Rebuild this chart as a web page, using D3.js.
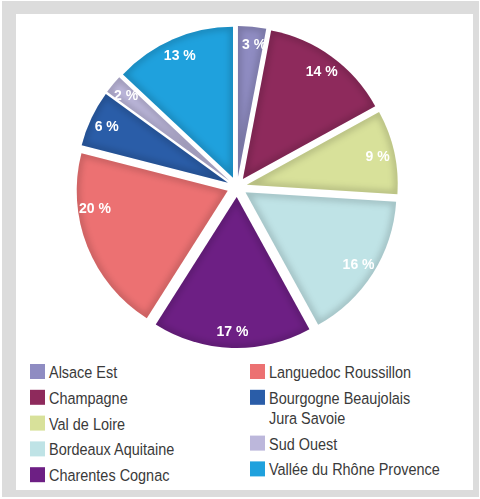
<!DOCTYPE html>
<html>
<head>
<meta charset="utf-8">
<script src="https://cdn.jsdelivr.net/npm/d3@7"></script>
<style>
  html, body { margin: 0; padding: 0; background: #fff; }
  svg { display: block; }
</style>
</head>
<body>
<script>
// Wine regions and their share (%)
const categories = [
  "Alsace Est",
  "Champagne",
  "Val de Loire",
  "Bordeaux Aquitaine",
  "Charentes Cognac",
  "Languedoc Roussillon",
  "Bourgogne Beaujolais\nJura Savoie",
  "Sud Ouest",
  "Vallée du Rhône Provence"
];
const values = [3, 14, 9, 16, 17, 20, 6, 2, 13];
const colors = [
  "#8f8cc2", "#8e2a5c", "#d8e19a", "#bfe3e6", "#6d1f84",
  "#ec7172", "#2a5da8", "#bcb7db", "#1fa1dd"
];
// legend column assignment
const leftColumn = [0, 1, 2, 3, 4];
const rightColumn = [5, 6, 7, 8];

const W = 480, H = 499;
const cx = 237, cy = 187, R = 151, explode = 10, labelR = 134;
// angular nudge (degrees) for label placement inside a wedge
const labelNudge = { 0: 1.5, 5: 14 };

const data = categories.map((c, i) => ({ name: c, value: values[i], color: colors[i], i }));

const svg = d3.select("body").append("svg")
  .attr("width", W).attr("height", H);

// frame
svg.append("rect").attr("width", W).attr("height", H).attr("fill", "#fff");
svg.append("rect").attr("x", 2).attr("y", 1).attr("width", 477).attr("height", 496).attr("fill", "#dcdcdc");
svg.append("rect").attr("x", 16).attr("y", 14).attr("width", 457).attr("height", 476).attr("fill", "#fff");

const defs = svg.append("defs");
defs.append("filter").attr("id", "soft")
  .attr("x", "-20%").attr("y", "-20%").attr("width", "140%").attr("height", "140%")
  .append("feGaussianBlur").attr("stdDeviation", 3);
defs.append("filter").attr("id", "txt")
  .append("feGaussianBlur").attr("stdDeviation", 0.3);

const pie = d3.pie().sort(null).value(d => d.value);
const arc = d3.arc().innerRadius(0).outerRadius(R);
const lblArc = d3.arc().innerRadius(labelR).outerRadius(labelR);

const arcs = pie(data);
const chart = svg.append("g").attr("transform", `translate(${cx},${cy})`);

const slices = chart.selectAll("g.slice").data(arcs).join("g")
  .attr("class", "slice")
  .attr("transform", d => {
    const m = (d.startAngle + d.endAngle) / 2;
    return `translate(${Math.sin(m) * explode},${-Math.cos(m) * explode})`;
  });

slices.each(function (d, k) {
  const g = d3.select(this);
  const id = "clip" + k;
  defs.append("clipPath").attr("id", id).append("path").attr("d", arc(d));
  g.append("path").attr("d", arc(d)).attr("fill", d.data.color);
  // soft inner rim shading
  g.append("path").attr("d", arc(d))
    .attr("fill", "none")
    .attr("stroke", "#000").attr("stroke-opacity", 0.16)
    .attr("stroke-width", 7)
    .attr("filter", "url(#soft)")
    .attr("clip-path", `url(#${id})`);
  const nudge = (labelNudge[k] || 0) * Math.PI / 180;
  const la = Object.assign({}, d, { startAngle: d.startAngle + nudge, endAngle: d.endAngle + nudge });
  const [lx, ly] = lblArc.centroid(la);
  g.append("text")
    .attr("x", lx).attr("y", ly)
    .attr("text-anchor", "middle")
    .attr("dominant-baseline", "central")
    .attr("fill", "#fff")
    .attr("font-family", "'Liberation Sans', Arial, sans-serif")
    .attr("font-weight", "bold")
    .attr("font-size", 14)
    .attr("filter", "url(#txt)")
    .text(d.data.value + " %");
});

// legend
const legendFont = "'Liberation Sans', Arial, sans-serif";
function drawColumn(indices, x0, y0) {
  let y = y0;
  indices.forEach(i => {
    const g = svg.append("g").attr("transform", `translate(${x0},${y})`);
    g.append("rect").attr("width", 15).attr("height", 15).attr("fill", colors[i]);
    const lines = categories[i].split("\n");
    const t = g.append("text")
      .attr("transform", "translate(19,0) scale(0.85,1)")
      .attr("font-family", legendFont)
      .attr("font-size", 17)
      .attr("fill", "#3a3a3a");
    lines.forEach((ln, j) => {
      t.append("tspan").attr("x", 0).attr("y", 14 + j * 20).text(ln);
    });
    y += 25.8 + (lines.length - 1) * 20;
  });
}
drawColumn(leftColumn, 30, 364);
drawColumn(rightColumn, 250, 364);
</script>
</body>
</html>
